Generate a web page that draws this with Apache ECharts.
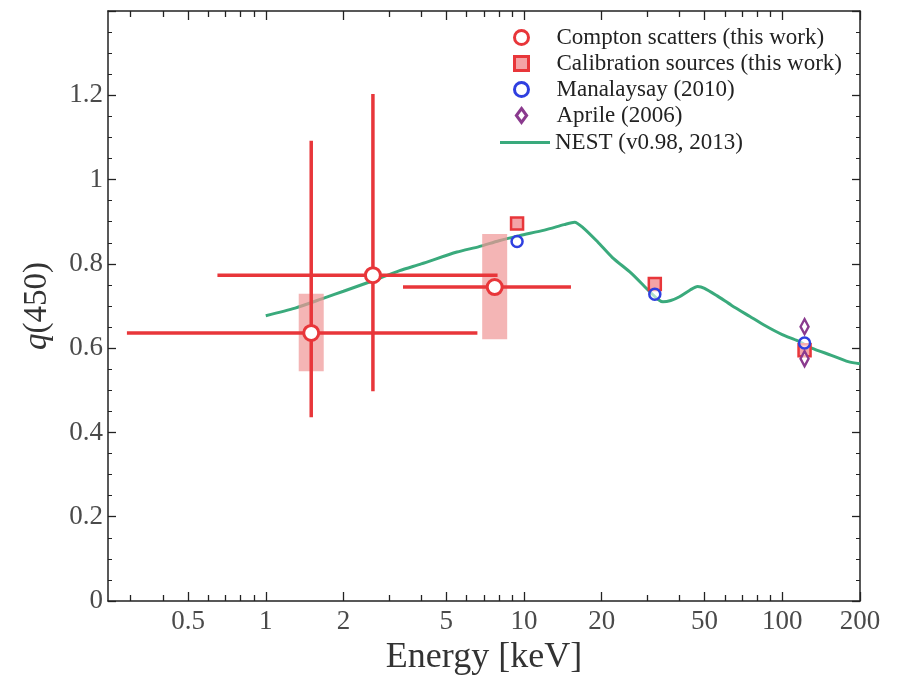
<!DOCTYPE html>
<html>
<head>
<meta charset="utf-8">
<script src="https://cdn.jsdelivr.net/npm/echarts@6/dist/echarts.min.js"></script>
<style>
  html, body { margin: 0; padding: 0; background: #fff; }
  #chart { width: 898px; height: 675px; }
</style>
</head>
<body>
<div id="chart"></div>
<script>
// ---- Compton scatter measurements (this work) ----
const comptonE = [1.5, 2.6, 7.7];
const comptonQ = [0.636, 0.773, 0.745];
const comptonELo = [0.29, 0.65, 3.4];
const comptonEHi = [6.6, 7.9, 15.2];
const comptonQLo = [0.436, 0.498, null];
const comptonQHi = [1.092, 1.203, null];
const comptonSysLo = [0.545, null, 0.621];
const comptonSysHi = [0.729, null, 0.871];

// ---- Calibration sources (this work) ----
const calibE = [9.4, 32.1, 122];
const calibQ = [0.896, 0.752, 0.595];

// ---- Manalaysay (2010) ----
const manaE = [9.4, 32.1, 122];
const manaQ = [0.853, 0.728, 0.612];

// ---- Aprile (2006) ----
const aprileE = [122, 122];
const aprileQ = [0.651, 0.575];

// ---- NEST (v0.98, 2013) model curve ----
const nestE = [1.0, 1.3, 1.7, 2.0, 2.6, 3.3, 4.0, 5.5, 6.7, 8.0, 9.6, 12, 14.3, 15.7, 17, 19.3, 22, 26, 30, 33, 34.5, 37, 40, 44, 47, 50, 56, 63.5, 75, 86, 100, 115, 130, 155, 180, 200];
const nestQ = [0.677, 0.695, 0.720, 0.735, 0.760, 0.784, 0.800, 0.828, 0.841, 0.855, 0.867, 0.880, 0.893, 0.899, 0.885, 0.852, 0.815, 0.778, 0.740, 0.716, 0.710, 0.713, 0.722, 0.738, 0.746, 0.742, 0.724, 0.702, 0.675, 0.653, 0.632, 0.617, 0.600, 0.583, 0.568, 0.563];

// ---- Axis ticks ----
const xMajorTicks = [0.5, 1, 2, 5, 10, 20, 50, 100, 200];
const xMinorTicks = [0.3, 0.4, 0.6, 0.7, 0.8, 0.9, 3, 4, 6, 7, 8, 9, 30, 40, 60, 70, 80, 90];

const RED = '#e8363a';
const PINK = 'rgba(240,150,150,0.7)';
const BLUE = '#2f3fe0';
const PURPLE = '#8a3a8e';
const GREEN = '#3aaa7c';
const SERIF = '"Liberation Serif", "DejaVu Serif", serif';
const LABEL_COLOR = '#4a4a4a';
const DIAMOND = 'path://M5.5,0L11,7.5L5.5,15L0,7.5Z';

const zip = (a, b) => a.map((v, i) => [v, b[i]]);

const chart = echarts.init(document.getElementById('chart'), null, { renderer: 'canvas' });

const X_MIN = 0.245, X_MAX = 200;

function xAxisDef(pos, ticks, len, showLine, showLabel, name) {
  return {
    type: 'log', logBase: 10, position: pos, min: X_MIN, max: X_MAX,
    axisLine: { show: showLine, onZero: false, lineStyle: { color: '#222', width: 1.5 } },
    axisTick: { show: true, inside: true, length: len, customValues: ticks, lineStyle: { color: '#222', width: 1.3 } },
    axisLabel: {
      show: showLabel, customValues: ticks, margin: 7,
      fontFamily: SERIF, fontSize: 27, color: LABEL_COLOR,
      formatter: v => String(+v.toPrecision(3))
    },
    splitLine: { show: false },
    minorTick: { show: false },
    name: name || '', nameLocation: 'middle', nameGap: 34,
    nameTextStyle: { fontFamily: SERIF, fontSize: 36, color: '#333' }
  };
}

function yAxisDef(pos, showLabel) {
  return {
    type: 'value', position: pos, min: 0, max: 1.4, interval: 0.2,
    axisLine: { show: true, onZero: false, lineStyle: { color: '#222', width: 1.5 } },
    axisTick: { show: true, inside: true, length: 8, lineStyle: { color: '#222', width: 1.3 } },
    minorTick: { show: true, splitNumber: 4, length: 4, lineStyle: { color: '#222', width: 1 } },
    axisLabel: {
      show: showLabel, showMaxLabel: false, margin: 5,
      fontFamily: SERIF, fontSize: 27, color: LABEL_COLOR
    },
    splitLine: { show: false },
    name: showLabel ? '{i|q}(450)' : '',
    nameLocation: 'middle', nameRotate: 90, nameGap: 54,
    nameTextStyle: {
      fontFamily: SERIF, fontSize: 33, color: '#333',
      rich: { i: { fontFamily: SERIF, fontSize: 33, fontStyle: 'italic', color: '#333' } }
    }
  };
}

const errorData = comptonE.map((e, i) => [e, comptonQ[i], comptonELo[i], comptonEHi[i],
  comptonQLo[i] == null ? NaN : comptonQLo[i], comptonQHi[i] == null ? NaN : comptonQHi[i]]);
const sysData = comptonE.map((e, i) => [e, comptonSysLo[i] == null ? NaN : comptonSysLo[i],
  comptonSysHi[i] == null ? NaN : comptonSysHi[i]]).filter(d => !isNaN(d[1]));

const legendText = {
  fontFamily: SERIF, fontSize: 23, color: '#222',
  rich: { g: { width: 23, fontSize: 23 } }
};

const option = {
  animation: false,
  backgroundColor: '#fff',
  grid: { left: 108, right: 38, top: 11, bottom: 74, outerBoundsMode: 'none', containLabel: false },
  xAxis: [
    xAxisDef('bottom', xMajorTicks, 9, true, true, 'Energy [keV]'),
    xAxisDef('bottom', xMinorTicks, 6, false, false),
    xAxisDef('top', xMajorTicks, 9, true, false),
    xAxisDef('top', xMinorTicks, 6, false, false)
  ],
  yAxis: [yAxisDef('left', true), yAxisDef('right', false)],
  legend: [
    {
      orient: 'vertical', left: 508, top: 21,
      itemWidth: 14, itemHeight: 14, itemGap: 3,
      itemStyle: { borderWidth: 3 },
      textStyle: legendText,
      formatter: name => '{g| }' + name,
      data: ['Compton scatters (this work)', 'Calibration sources (this work)', 'Manalaysay (2010)', 'Aprile (2006)']
    },
    {
      orient: 'vertical', left: 495, top: 126,
      itemWidth: 50, itemHeight: 3,
      textStyle: legendText,
      data: [{ name: 'NEST (v0.98, 2013)', icon: 'rect' }]
    }
  ],
  series: [
    {
      name: 'NEST (v0.98, 2013)', type: 'line', data: zip(nestE, nestQ),
      symbol: 'none', smooth: 0.25, z: 2,
      lineStyle: { color: GREEN, width: 3 }, itemStyle: { color: GREEN }
    },
    {
      name: 'sys', type: 'custom', data: sysData, z: 3,
      renderItem(params, api) {
        const a = api.coord([api.value(0), api.value(1)]);
        const b = api.coord([api.value(0), api.value(2)]);
        const w = 25;
        return {
          type: 'rect',
          shape: { x: a[0] - w / 2, y: b[1], width: w, height: a[1] - b[1] },
          style: { fill: PINK }
        };
      }
    },
    {
      name: 'err', type: 'custom', data: errorData, z: 4,
      renderItem(params, api) {
        const style = { stroke: RED, lineWidth: 3.5 };
        const q = api.value(1);
        const l = api.coord([api.value(2), q]);
        const r = api.coord([api.value(3), q]);
        const children = [{ type: 'line', shape: { x1: l[0], y1: l[1], x2: r[0], y2: r[1] }, style }];
        const lo = api.value(4), hi = api.value(5);
        if (!isNaN(lo) && !isNaN(hi)) {
          const t = api.coord([api.value(0), hi]);
          const b = api.coord([api.value(0), lo]);
          children.push({ type: 'line', shape: { x1: t[0], y1: t[1], x2: b[0], y2: b[1] }, style });
        }
        return { type: 'group', children };
      }
    },
    {
      name: 'Compton scatters (this work)', type: 'scatter', data: zip(comptonE, comptonQ), z: 6,
      symbol: 'circle', symbolSize: 15,
      itemStyle: { color: '#fff', borderColor: RED, borderWidth: 3, opacity: 1 }
    },
    {
      name: 'Calibration sources (this work)', type: 'scatter', data: zip(calibE, calibQ), z: 6,
      symbol: 'rect', symbolSize: 12,
      itemStyle: { color: '#f4a3a6', borderColor: RED, borderWidth: 2.5, opacity: 1 }
    },
    {
      name: 'Manalaysay (2010)', type: 'scatter', data: zip(manaE, manaQ), z: 7,
      symbol: 'circle', symbolSize: 11,
      itemStyle: { color: 'rgba(255,255,255,0.6)', borderColor: BLUE, borderWidth: 2.5, opacity: 1 }
    },
    {
      name: 'Aprile (2006)', type: 'scatter', data: zip(aprileE, aprileQ), z: 7,
      symbol: DIAMOND, symbolSize: [11, 15], symbolKeepAspect: true,
      itemStyle: { color: 'rgba(255,255,255,0.6)', borderColor: PURPLE, borderWidth: 2.5, opacity: 1 }
    }
  ]
};

chart.setOption(option);
</script>
</body>
</html>
